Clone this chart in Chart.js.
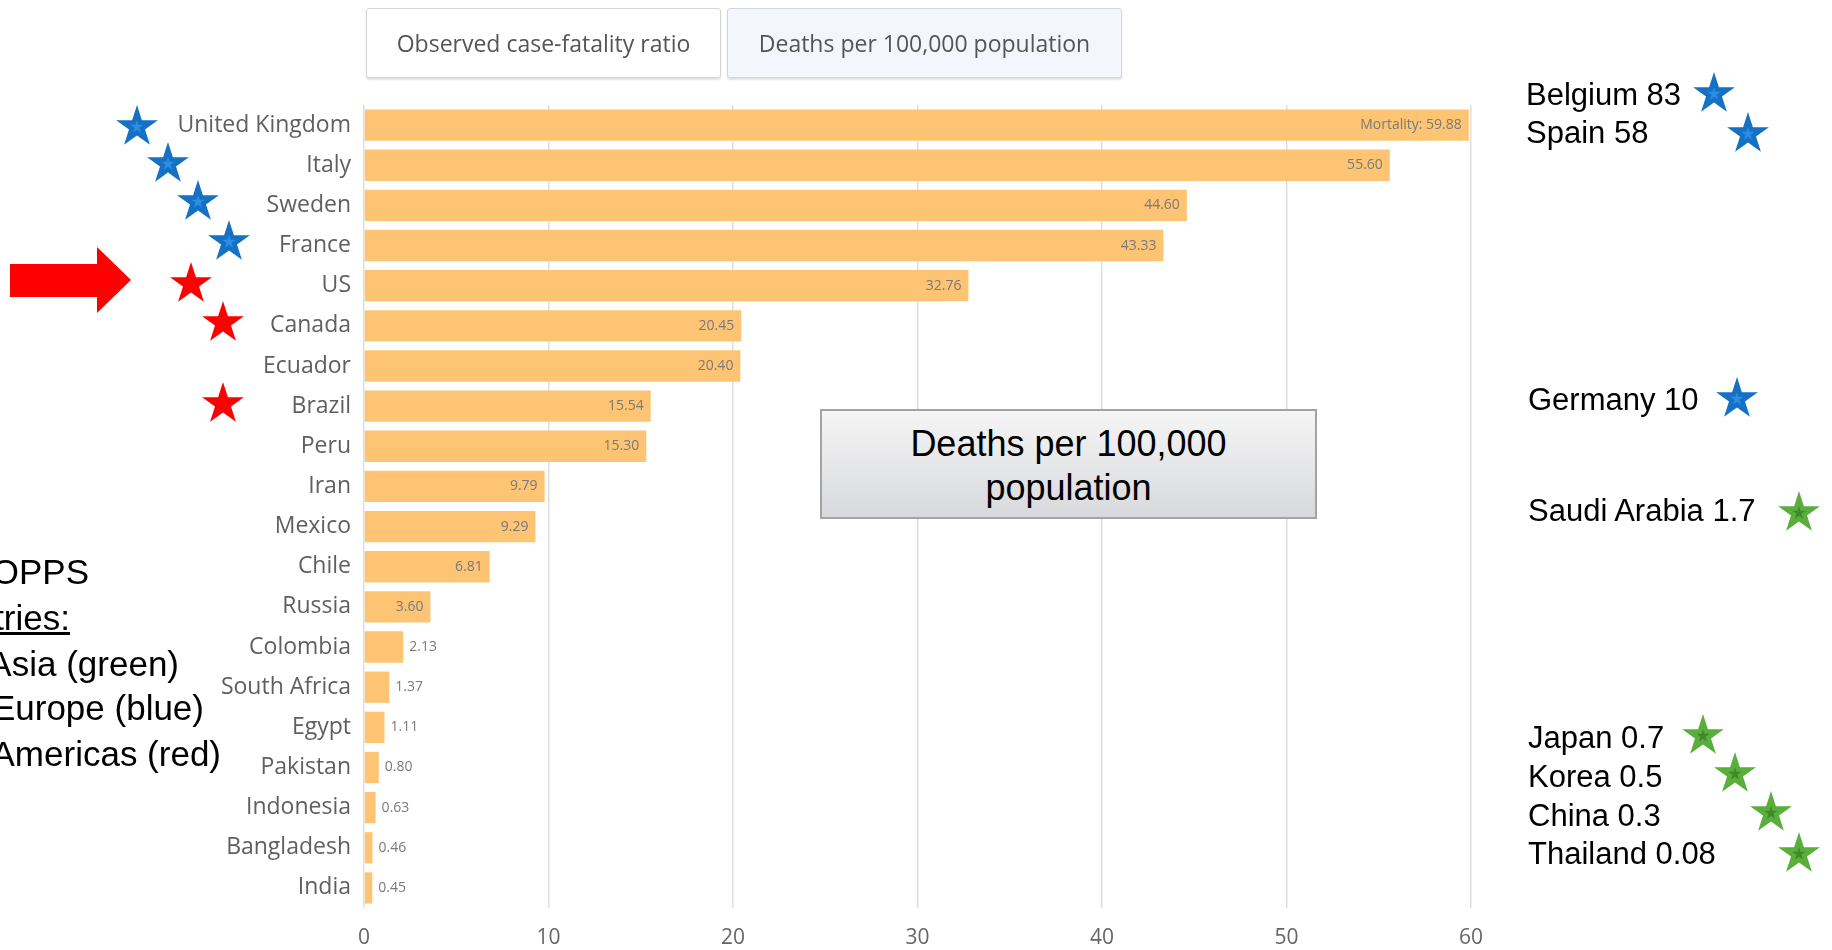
<!DOCTYPE html>
<html>
<head>
<meta charset="utf-8">
<script src="https://cdn.jsdelivr.net/npm/chart.js@4.4.1/dist/chart.umd.min.js"></script>
<style>
  html, body { margin: 0; padding: 0; background: #fff; }
  body { width: 1832px; height: 950px; position: relative; overflow: hidden; font-family: "Liberation Sans", Arial, sans-serif; }
  #wrap { position: absolute; left: 0; top: 0; width: 1832px; height: 950px; }
  .tab { position: absolute; top: 8px; height: 70px; box-sizing: border-box; border: 1px solid #d6d6d6; border-radius: 3px;
         box-shadow: 0 2px 2px rgba(0,0,0,0.12); font-family: "Open Sans", sans-serif; font-size: 23px; color: #555;
         display: flex; align-items: center; justify-content: center; }
  .box { position: absolute; left: 820px; top: 409px; width: 497px; height: 110px; box-sizing: border-box;
         border: 2px solid #a3a3a3; background: linear-gradient(#f5f5f5, #d8d9dc); text-align: center;
         font-size: 36px; line-height: 44px; color: #000; padding-top: 11px; }
  .note { position: absolute; font-size: 31px; color: #000; white-space: nowrap; line-height: 36px; }
  .left { position: absolute; font-size: 35px; color: #000; white-space: nowrap; line-height: 40px; text-align: right; }
  svg.over { position: absolute; left: 0; top: 0; pointer-events: none; }
</style>
</head>
<body>
<div id="wrap"><canvas id="c" width="1832" height="950"></canvas></div>

<div class="tab" style="left:366px; width:355px; background:#fff;">Observed case-fatality ratio</div>
<div class="tab" style="left:727px; width:395px; background:#f3f7fd;">Deaths per 100,000 population</div>

<div class="box">Deaths per 100,000<br>population</div>

<div class="note" style="left:1526px; top:77px;">Belgium 83</div>
<div class="note" style="left:1526px; top:115px;">Spain 58</div>
<div class="note" style="left:1528px; top:382px;">Germany 10</div>
<div class="note" style="left:1528px; top:493px;">Saudi Arabia 1.7</div>
<div class="note" style="left:1528px; top:720px;">Japan 0.7</div>
<div class="note" style="left:1528px; top:759px;">Korea 0.5</div>
<div class="note" style="left:1528px; top:798px;">China 0.3</div>
<div class="note" style="left:1528px; top:836px;">Thailand 0.08</div>

<div class="left" style="right:1743px; top:552px;">DOPPS</div>
<div class="left" style="right:1762px; top:598px;"><u>Countries:</u></div>
<div class="left" style="right:1653px; top:644px;">Asia (green)</div>
<div class="left" style="right:1628px; top:688px;">Europe (blue)</div>
<div class="left" style="right:1611px; top:734px;">Americas (red)</div>

<svg class="over" id="marks" width="1832" height="950"></svg>

<script>
const countries = ['United Kingdom', 'Italy', 'Sweden', 'France', 'US', 'Canada', 'Ecuador', 'Brazil', 'Peru', 'Iran',
  'Mexico', 'Chile', 'Russia', 'Colombia', 'South Africa', 'Egypt', 'Pakistan', 'Indonesia', 'Bangladesh', 'India']
const deathsPer100k = [59.88, 55.60, 44.60, 43.33, 32.76, 20.45, 20.40, 15.54, 15.30, 9.79,
  9.29, 6.81, 3.60, 2.13, 1.37, 1.11, 0.80, 0.63, 0.46, 0.45]
const xTicks = [0, 10, 20, 30, 40, 50, 60]

// stars + arrow drawn on top
const starSpots = [
  [137, 125, 'blue'], [168, 162, 'blue'], [198, 200, 'blue'], [229, 240, 'blue'],
  [191, 282, 'red'], [223, 321, 'red'], [223, 402, 'red'],
  [1714, 92, 'blue'], [1748, 132, 'blue'], [1737, 397, 'blue'],
  [1799, 511, 'green'], [1703, 734, 'green'], [1735, 772, 'green'], [1771, 811, 'green'], [1799, 852, 'green']
]
const starColors = { blue: ['#1571c4', '#2a8de6'], red: ['#fe0000', null], green: ['#5aaf3c', '#3e8a2b'] }

function starPath(cx, cy, R) {
  const r = R * 0.382
  let pts = []
  for (let i = 0; i < 10; i++) {
    const rad = i % 2 ? r : R
    const a = -Math.PI / 2 + i * Math.PI / 5
    pts.push((cx + rad * Math.cos(a)).toFixed(1) + ',' + (cy + rad * Math.sin(a)).toFixed(1))
  }
  return pts.join(' ')
}

let svg = ''
svg += '<polygon fill="#fe0000" points="10,264 97,264 97,247 131,280 97,313 97,297 10,297"/>'
starSpots.forEach(([x, y, c]) => {
  const [outer, inner] = starColors[c]
  svg += '<polygon fill="' + outer + '" points="' + starPath(x, y + 2, 22) + '"/>'
  if (inner) svg += '<polygon fill="' + inner + '" points="' + starPath(x, y + 2, 7) + '"/>'
})
document.getElementById('marks').innerHTML = svg

const barLabels = {
  id: 'barLabels',
  afterDatasetsDraw(chart) {
    const ctx = chart.ctx
    const meta = chart.getDatasetMeta(0)
    ctx.save()
    ctx.font = '14px "Open Sans"'
    ctx.fillStyle = '#7a7a7a'
    ctx.textBaseline = 'middle'
    meta.data.forEach((bar, i) => {
      const v = deathsPer100k[i]
      let txt = v.toFixed(2)
      if (i === 0) txt = 'Mortality: ' + txt
      if (v >= 3) {
        ctx.textAlign = 'right'
        ctx.fillText(txt, bar.x - 7, bar.y)
      } else {
        ctx.textAlign = 'left'
        ctx.fillText(txt, bar.x + 6, bar.y)
      }
    })
    ctx.restore()
  }
}

const ctx = document.getElementById('c').getContext('2d')
new Chart(ctx, {
  type: 'bar',
  data: {
    labels: countries,
    datasets: [{
      data: deathsPer100k,
      backgroundColor: '#fdc473',
      borderWidth: 0,
      barPercentage: 0.78,
      categoryPercentage: 1
    }]
  },
  options: {
    indexAxis: 'y',
    responsive: false,
    animation: false,
    layout: { padding: { top: 105, right: 361, bottom: 0, left: 0 } },
    plugins: { legend: { display: false }, tooltip: { enabled: false } },
    scales: {
      x: {
        min: 0,
        max: 60,
        z: 1,
        afterFit: (s) => { s.height = 42 },
        afterBuildTicks: (s) => { s.ticks = xTicks.map(v => ({ value: v })) },
        grid: { color: 'rgba(0,0,0,0.13)', lineWidth: 1.5, drawTicks: false },
        border: { display: false },
        ticks: { color: '#666', font: { family: 'Open Sans', size: 21 }, padding: 17 }
      },
      y: {
        afterFit: (s) => { s.width = 364 },
        grid: { display: false },
        border: { display: false },
        ticks: { color: '#5f5f5f', font: { family: 'Open Sans', size: 23 }, padding: 5 }
      }
    }
  },
  plugins: [barLabels]
})
</script>
</body>
</html>
